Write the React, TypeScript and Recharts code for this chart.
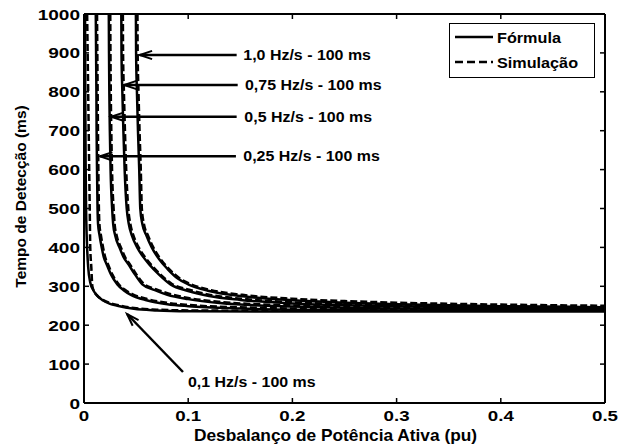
import { LineChart, Line, XAxis, YAxis, ReferenceLine, ReferenceDot, Legend } from "recharts";

// Detection time (ms) vs active power imbalance (pu)
const f100 = [
    [0.001, 1000], [0.0012, 800], [0.0016, 600], [0.002, 500], [0.003, 400], [0.004, 350],
    [0.006, 310], [0.009, 290], [0.012, 278], [0.018, 264], [0.025, 255], [0.032, 250],
    [0.048, 242], [0.07, 238], [0.1, 236], [0.2, 235], [0.5, 235],
];
const s100 = [
    [0.003, 1000], [0.0035, 900], [0.004, 800], [0.0045, 700], [0.005, 600], [0.0055, 500],
    [0.006, 400], [0.007, 350], [0.008, 300], [0.01, 285], [0.012, 278], [0.018, 265],
    [0.025, 257], [0.032, 252], [0.048, 244], [0.07, 240], [0.1, 238], [0.2, 237], [0.5, 237],
];
const f250 = [
    [0.0113, 1000], [0.0116, 900], [0.0119, 800], [0.0121, 700], [0.0125, 600], [0.013, 500],
    [0.0135, 460], [0.015, 430], [0.017, 400], [0.019, 375], [0.022, 355], [0.026, 330],
    [0.032, 305], [0.038, 290], [0.045, 278], [0.06, 264], [0.08, 254], [0.1, 249],
    [0.15, 243], [0.2, 240], [0.3, 238], [0.5, 237],
];
const s250 = [
    [0.0125, 1000], [0.0128, 900], [0.0131, 800], [0.0134, 700], [0.0138, 600], [0.0143, 500],
    [0.0148, 460], [0.0163, 430], [0.0183, 400], [0.0203, 375], [0.0233, 355], [0.0273, 330],
    [0.0333, 305], [0.0393, 291], [0.0463, 280], [0.061, 267], [0.081, 257], [0.1, 252],
    [0.15, 246], [0.2, 243], [0.3, 241], [0.5, 240],
];
const f500 = [
    [0.0238, 1000], [0.024, 900], [0.0243, 800], [0.0248, 700], [0.0255, 600], [0.027, 500],
    [0.028, 460], [0.03, 430], [0.034, 400], [0.038, 375], [0.043, 355], [0.049, 330],
    [0.056, 305], [0.068, 290], [0.08, 278], [0.1, 267], [0.13, 257], [0.2, 248],
    [0.3, 243], [0.5, 240],
];
const s500 = [
    [0.0252, 1000], [0.0254, 900], [0.0257, 800], [0.0262, 700], [0.0269, 600], [0.0284, 500],
    [0.0294, 460], [0.0314, 430], [0.0354, 400], [0.0394, 375], [0.0444, 355], [0.0504, 330],
    [0.0575, 306], [0.0695, 292], [0.0815, 281], [0.1, 270], [0.13, 260], [0.2, 251],
    [0.3, 246], [0.5, 243],
];
const f750 = [
    [0.0358, 1000], [0.036, 900], [0.0368, 800], [0.0378, 700], [0.039, 600], [0.041, 500],
    [0.043, 460], [0.046, 430], [0.051, 400], [0.057, 375], [0.063, 355], [0.072, 330],
    [0.083, 305], [0.1, 288], [0.12, 275], [0.15, 265], [0.2, 256], [0.3, 249],
    [0.4, 245], [0.5, 243],
];
const s750 = [
    [0.0373, 1000], [0.0375, 900], [0.0383, 800], [0.0393, 700], [0.0405, 600], [0.0425, 500],
    [0.0445, 460], [0.0475, 430], [0.0525, 400], [0.0585, 375], [0.0645, 355], [0.0735, 330],
    [0.0845, 306], [0.101, 291], [0.121, 278], [0.151, 268], [0.2, 259], [0.3, 252],
    [0.4, 248], [0.5, 246],
];
const f1000 = [
    [0.0498, 1000], [0.05, 900], [0.0508, 800], [0.0518, 700], [0.053, 600], [0.054, 500],
    [0.056, 460], [0.06, 430], [0.065, 400], [0.072, 370], [0.08, 345], [0.09, 320],
    [0.1, 305], [0.12, 288], [0.15, 275], [0.2, 264], [0.25, 258], [0.3, 254],
    [0.4, 249], [0.5, 246],
];
const s1000 = [
    [0.0513, 1000], [0.0515, 900], [0.0523, 800], [0.0533, 700], [0.0545, 600], [0.0555, 500],
    [0.0575, 460], [0.0615, 430], [0.0665, 400], [0.0735, 370], [0.0815, 345], [0.092, 320],
    [0.102, 306], [0.122, 290], [0.152, 278], [0.2, 268], [0.25, 262], [0.3, 258],
    [0.4, 253], [0.5, 250],
];

const formulaSeries = [f100, f250, f500, f750, f1000];
const simulationSeries = [s100, s250, s500, s750, s1000];

const xTicks = [0, 0.1, 0.2, 0.3, 0.4, 0.5];
const xTickLabels = ["0", "0.1", "0.2", "0.3", "0.4", "0.5"];
const yTicks = [0, 100, 200, 300, 400, 500, 600, 700, 800, 900, 1000];

// annotations
const noteLabels = [
    "1,0 Hz/s - 100 ms",
    "0,75 Hz/s - 100 ms",
    "0,5 Hz/s - 100 ms",
    "0,25 Hz/s - 100 ms",
    "0,1 Hz/s - 100 ms",
];
const noteX = [0.1529, 0.1545, 0.1539, 0.1529, 0.0998];
const noteY = [894.6, 817.5, 736, 634, 54];
const arrowFrom = [[0.1465, 894.6], [0.1475, 817.5], [0.1465, 736], [0.1458, 634], [0.095, 79.7]];
const arrowTo = [[0.0535, 894.6], [0.0385, 817.5], [0.026, 736], [0.0154, 634], [0.0413, 228.8]];

const FONT = "'Liberation Sans', Arial, sans-serif";

const toPts = (arr: number[][]) => arr.map(([x, y]) => ({ x, y }));

const XTick = (props: any) => {
    const { x, y, payload } = props;
    const i = xTicks.indexOf(payload.value);
    return (
        <g>
            <line x1={x} y1={y} x2={x} y2={y - 5} stroke="#000" strokeWidth={1.5} />
            <text
                transform={`translate(${x},${y + 18}) scale(1.25,1)`}
                textAnchor="middle"
                fontFamily={FONT}
                fontWeight="bold"
                fontSize={15}
                fill="#000"
            >
                {xTickLabels[i]}
            </text>
        </g>
    );
};

const TopTick = (props: any) => {
    const { x, y } = props;
    return <line x1={x} y1={y} x2={x} y2={y + 5} stroke="#000" strokeWidth={1.5} />;
};

const YTick = (props: any) => {
    const { x, y, payload } = props;
    return (
        <g>
            <line x1={x} y1={y} x2={x + 5} y2={y} stroke="#000" strokeWidth={1.5} />
            <text
                transform={`translate(${x - 4},${y + 5.5}) scale(1.27,1)`}
                textAnchor="end"
                fontFamily={FONT}
                fontWeight="bold"
                fontSize={15}
                fill="#000"
            >
                {payload.value}
            </text>
        </g>
    );
};

const RightTick = (props: any) => {
    const { x, y } = props;
    return <line x1={x} y1={y} x2={x - 5} y2={y} stroke="#000" strokeWidth={1.5} />;
};

const Arrow = (p: any) => {
    const { x1, y1, x2, y2 } = p;
    const ang = Math.atan2(y2 - y1, x2 - x1);
    const len = 13;
    const spread = 0.32;
    const ax = x2 - len * Math.cos(ang - spread);
    const ay = y2 - len * Math.sin(ang - spread);
    const bx = x2 - len * Math.cos(ang + spread);
    const by = y2 - len * Math.sin(ang + spread);
    return (
        <g>
            <line x1={x1} y1={y1} x2={x2} y2={y2} stroke="#000" strokeWidth={2.5} />
            <polyline points={`${ax},${ay} ${x2},${y2} ${bx},${by}`} fill="none" stroke="#000" strokeWidth={2} />
        </g>
    );
};

const noteShape = (label: string) => (p: any) => (
    <text
        transform={`translate(${p.cx},${p.cy + 5}) scale(1.14,1)`}
        fontFamily={FONT}
        fontWeight="bold"
        fontSize={14}
        fill="#000"
    >
        {label}
    </text>
);

const LegendBox = () => (
    <svg width={146} height={55} style={{ display: "block" }}>
        <rect x={0.5} y={0.5} width={145} height={54} fill="#fff" stroke="#000" strokeWidth={1} />
        <line x1={6} y1={14} x2={44} y2={14} stroke="#000" strokeWidth={2.5} />
        <text transform="translate(48,19.5) scale(1.08,1)" fontFamily={FONT} fontWeight="bold" fontSize={15} fill="#000">
            Fórmula
        </text>
        <line x1={6} y1={39} x2={44} y2={39} stroke="#000" strokeWidth={2.5} strokeDasharray="8 4" />
        <text transform="translate(48,44.5) scale(1.08,1)" fontFamily={FONT} fontWeight="bold" fontSize={15} fill="#000">
            Simulação
        </text>
    </svg>
);

export default function App() {
    return (
        <div style={{ position: "absolute", left: 0, top: 0, background: "#fff" }}>
            <LineChart width={632} height={447} margin={{ top: 10, right: 23, bottom: 0, left: 0 }}>
                <XAxis
                    dataKey="x"
                    type="number"
                    domain={[0, 0.5]}
                    ticks={xTicks}
                    allowDataOverflow
                    height={44}
                    tickSize={0}
                    tickMargin={0}
                    tickLine={false}
                    tick={<XTick />}
                    axisLine={{ stroke: "#000", strokeWidth: 2 }}
                    label={(p: any) => {
                        const vb = p.viewBox;
                        return (
                            <text
                                transform={`translate(${vb.x + vb.width / 2 - 9},${vb.y + 38}) scale(1.05,1)`}
                                textAnchor="middle"
                                fontFamily={FONT}
                                fontWeight="bold"
                                fontSize={16.5}
                                fill="#000"
                            >
                                Desbalanço de Potência Ativa (pu)
                            </text>
                        );
                    }}
                />
                <XAxis
                    xAxisId="top"
                    orientation="top"
                    dataKey="x"
                    type="number"
                    domain={[0, 0.5]}
                    ticks={xTicks}
                    allowDataOverflow
                    height={4}
                    tickSize={0}
                    tickMargin={0}
                    tickLine={false}
                    tick={<TopTick />}
                    axisLine={{ stroke: "#000", strokeWidth: 2 }}
                />
                <YAxis
                    type="number"
                    domain={[0, 1000]}
                    ticks={yTicks}
                    allowDataOverflow
                    width={84}
                    tickSize={0}
                    tickMargin={0}
                    tickLine={false}
                    tick={<YTick />}
                    axisLine={{ stroke: "#000", strokeWidth: 2 }}
                    label={(p: any) => {
                        const vb = p.viewBox;
                        return (
                            <text
                                transform={`translate(${vb.x + 26},${vb.y + vb.height / 2 - 12}) rotate(-90)`}
                                textAnchor="middle"
                                fontFamily={FONT}
                                fontWeight="bold"
                                fontSize={15.5}
                                fill="#000"
                            >
                                Tempo de Detecção (ms)
                            </text>
                        );
                    }}
                />
                <YAxis
                    yAxisId="right"
                    orientation="right"
                    type="number"
                    domain={[0, 1000]}
                    ticks={yTicks}
                    allowDataOverflow
                    width={4}
                    tickSize={0}
                    tickMargin={0}
                    tickLine={false}
                    tick={<RightTick />}
                    axisLine={{ stroke: "#000", strokeWidth: 2 }}
                />

                <Legend
                    layout="horizontal"
                    verticalAlign="middle"
                    align="center"
                    content={() => <LegendBox />}
                    wrapperStyle={{ top: 23, left: 449, width: 146, height: 55 }}
                />

                {simulationSeries.map((s, i) => (
                    <Line
                        key={"s" + i}
                        data={toPts(s)}
                        dataKey="y"
                        type="monotone"
                        stroke="#000"
                        strokeWidth={2.5}
                        strokeDasharray="7 3"
                        dot={false}
                        legendType="none"
                        isAnimationActive={false}
                    />
                ))}
                {formulaSeries.map((s, i) => (
                    <Line
                        key={"f" + i}
                        data={toPts(s)}
                        dataKey="y"
                        type="monotone"
                        stroke="#000"
                        strokeWidth={2.5}
                        dot={false}
                        legendType="none"
                        isAnimationActive={false}
                    />
                ))}

                {noteLabels.map((_, i) => (
                    <ReferenceLine
                        key={"a" + i}
                        segment={[
                            { x: arrowFrom[i][0], y: arrowFrom[i][1] },
                            { x: arrowTo[i][0], y: arrowTo[i][1] },
                        ]}
                        shape={Arrow}
                        ifOverflow="visible"
                    />
                ))}
                {noteLabels.map((label, i) => (
                    <ReferenceDot
                        key={"n" + i}
                        x={noteX[i]}
                        y={noteY[i]}
                        r={0}
                        shape={noteShape(label)}
                        ifOverflow="visible"
                    />
                ))}
            </LineChart>
        </div>
    );
}
